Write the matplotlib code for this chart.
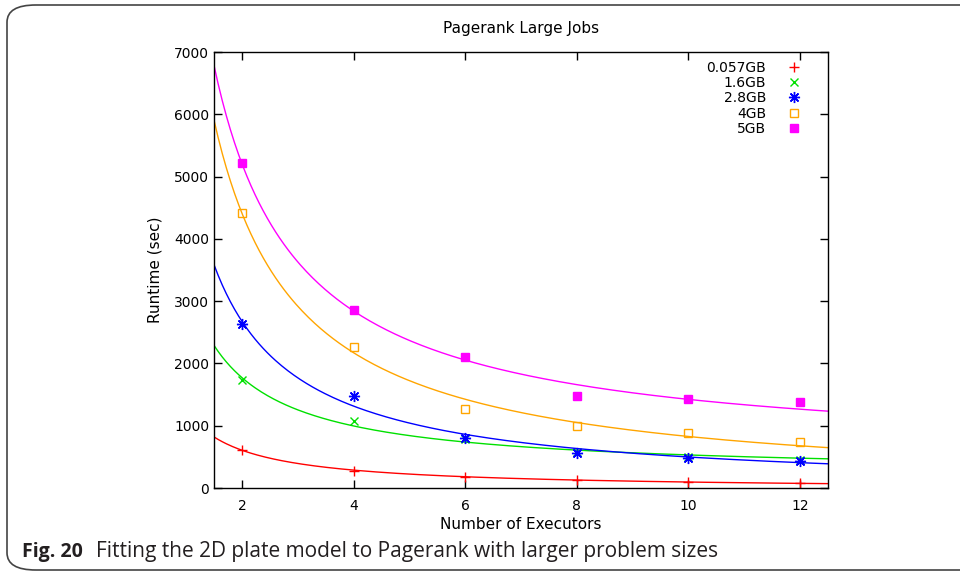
import numpy as np
import matplotlib.pyplot as plt
from matplotlib.patches import FancyBboxPatch

# executors used in every run
executors = np.array([2, 4, 6, 8, 10, 12])

# measured runtimes (sec) per problem size
rt_0057 = np.array([610, 278, 181, 128, 100, 75])
rt_16 = np.array([1733, 1080, 790, 575, 497, 449])
rt_28 = np.array([2632, 1477, 802, 567, 476, 438])
rt_4 = np.array([4414, 2258, 1263, 1000, 888, 743])
rt_5 = np.array([5212, 2857, 2098, 1477, 1423, 1385])

labels = ['0.057GB', '1.6GB', '2.8GB', '4GB', '5GB']
colors = ['#ff0000', '#00e000', '#0000ff', '#ffa500', '#ff00ff']
series = [rt_0057, rt_16, rt_28, rt_4, rt_5]


def plate_fit(x, y):
    # 2D plate model: t = a + b/p, least squares
    A = np.column_stack([np.ones_like(x, dtype=float), 1.0 / x])
    coef, *_ = np.linalg.lstsq(A, y.astype(float), rcond=None)
    return coef


def plate_eval(coef, x):
    return coef[0] + coef[1] / x


fig = plt.figure(figsize=(9.6, 5.74), dpi=100)
ax = fig.add_axes([214 / 960, 1 - 488 / 574, (828 - 214) / 960, (488 - 52) / 574])

xs = np.linspace(1.5, 12.5, 300)
markers = [
    dict(marker='+', ms=7, mew=1.0),
    dict(marker='x', ms=6, mew=1.0),
    dict(marker=(8, 2, 0), ms=8, mew=1.0),
    dict(marker='s', ms=6, mew=1.0, mfc='none'),
    dict(marker='s', ms=6, mew=1.0),
]
for y, lab, c, mk in zip(series, labels, colors, markers):
    ax.plot(executors, y, ls='none', color=c, label=lab, **mk)
    coef = plate_fit(executors, y)
    ax.plot(xs, plate_eval(coef, xs), color=c, lw=1.0)

ax.set_xlim(1.5, 12.5)
ax.set_ylim(0, 7000)
ax.set_xticks(executors)
ax.set_yticks(np.arange(0, 7001, 1000))
ax.tick_params(direction='in', length=6, width=1, top=True, right=True, labelsize=10)
ax.tick_params(axis='x', pad=8)
for s in ax.spines.values():
    s.set_linewidth(1.0)

ax.set_title('Pagerank Large Jobs', fontsize=11, pad=14)
ax.set_xlabel('Number of Executors', fontsize=11, labelpad=3)
ax.set_ylabel('Runtime (sec)', fontsize=11, labelpad=8)

leg = ax.legend(loc='upper right', frameon=False, markerfirst=False, fontsize=10,
                handlelength=1.2, handletextpad=1.4, labelspacing=0.1,
                bbox_to_anchor=(1 - 20 / 614, 1 - 3 / 436), borderaxespad=0,
                numpoints=1)
for t in leg.get_texts():
    t.set_ha('right')

# rounded frame around the figure and caption
frame = FancyBboxPatch((7 / 960, 1 - 570 / 574), 1.2, (570 - 5) / 574,
                       boxstyle='round,pad=0,rounding_size=0.03',
                       transform=fig.transFigure, fill=False,
                       edgecolor='#444444', linewidth=1.2, clip_on=False)
fig.patches.append(frame)

fig.text(22 / 960, 1 - 552 / 574, 'Fig. 20', family='Open Sans', weight='bold',
         fontsize=14, color='#231f20', va='center')
fig.text(96 / 960, 1 - 552 / 574, 'Fitting the 2D plate model to Pagerank with larger problem sizes',
         family='Open Sans', fontsize=15, color='#231f20', va='center')

fig.savefig('out.png', dpi=100)
